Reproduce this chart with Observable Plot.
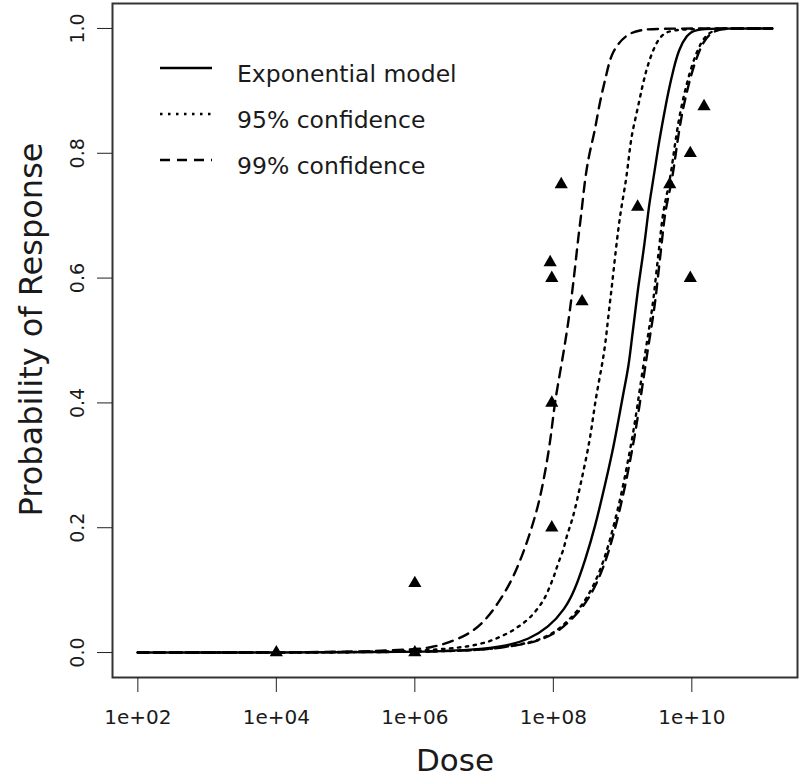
<!DOCTYPE html>
<html>
<head>
<meta charset="utf-8">
<script src="https://cdn.jsdelivr.net/npm/d3@7"></script>
<script src="https://cdn.jsdelivr.net/npm/@observablehq/plot@0.6"></script>
<style>
  body { margin: 0; background: #ffffff; }
  #wrap { position: relative; width: 800px; height: 780px; }
  #legend { position: absolute; left: 0; top: 0; pointer-events: none; }
  text { font-family: "DejaVu Sans", sans-serif; }
</style>
</head>
<body>
<div id="wrap"></div>
<script>
// ---- axis ticks ----
const xTicks = [1e2, 1e4, 1e6, 1e8, 1e10];
const xTickLabels = ["1e+02", "1e+04", "1e+06", "1e+08", "1e+10"];
const yTicks = [0, 0.2, 0.4, 0.6, 0.8, 1.0];
const yTickLabels = ["0.0", "0.2", "0.4", "0.6", "0.8", "1.0"];

// ---- observed data (triangles) ----
const obsDose = [1e4, 1e6, 1e6, 9e7, 9.5e7, 9.5e7, 9.5e7, 1.3e8, 2.6e8, 1.65e9, 4.8e9, 9.5e9, 9.5e9, 1.5e10];
const obsResponse = [0, 0, 0.111, 0.625, 0.6, 0.4, 0.2, 0.75, 0.5625, 0.714, 0.75, 0.8, 0.6, 0.875];

// ---- fitted exponential model (log10 dose, probability) ----
const modelLogDose = [2, 4, 6, 6.86, 7.35, 7.64, 7.93, 8.17, 8.31, 8.46, 8.60, 8.75, 8.87, 8.94, 9.01, 9.09, 9.13, 9.18, 9.23, 9.29, 9.34, 9.38, 9.42, 9.47, 9.52, 9.59, 9.66, 9.74, 9.81, 9.93, 10.04, 10.3, 11.16];
const modelProb    = [0, 0, 0.0005, 0.004, 0.011, 0.021, 0.040, 0.070, 0.100, 0.148, 0.200, 0.270, 0.330, 0.372, 0.415, 0.460, 0.500, 0.543, 0.590, 0.633, 0.676, 0.715, 0.742, 0.777, 0.814, 0.857, 0.899, 0.937, 0.966, 0.990, 0.998, 1.0, 1.0];

// ---- 95% confidence, lower and upper (dotted) ----
const lo95LogDose = [2, 5, 6.0, 6.68, 6.87, 7.09, 7.25, 7.40, 7.54, 7.66, 7.78, 7.88, 7.95, 8.02, 8.07, 8.15, 8.19, 8.26, 8.31, 8.39, 8.48, 8.55, 8.60, 8.67, 8.74, 8.78, 8.82, 8.85, 8.89, 8.94, 8.99, 9.05, 9.09, 9.13, 9.21, 9.28, 9.35, 9.45, 9.57, 9.8, 11.16];
const lo95Prob    = [0, 0.0005, 0.002, 0.008, 0.012, 0.018, 0.026, 0.034, 0.045, 0.055, 0.071, 0.087, 0.106, 0.125, 0.144, 0.165, 0.186, 0.208, 0.228, 0.268, 0.314, 0.356, 0.399, 0.441, 0.484, 0.524, 0.564, 0.591, 0.633, 0.681, 0.719, 0.756, 0.793, 0.830, 0.867, 0.905, 0.937, 0.969, 0.993, 1.0, 1.0];
const up95LogDose = [2, 6, 7.0, 7.35, 7.69, 7.98, 8.19, 8.41, 8.58, 8.72, 8.82, 8.92, 9.01, 9.09, 9.16, 9.22, 9.28, 9.34, 9.40, 9.45, 9.49, 9.54, 9.58, 9.66, 9.71, 9.75, 9.82, 9.90, 10.0, 10.14, 10.3, 10.5, 11.16];
const up95Prob    = [0, 0.0003, 0.004, 0.010, 0.016, 0.029, 0.048, 0.074, 0.106, 0.144, 0.181, 0.224, 0.268, 0.314, 0.356, 0.400, 0.445, 0.490, 0.530, 0.569, 0.612, 0.660, 0.705, 0.744, 0.776, 0.810, 0.860, 0.900, 0.942, 0.982, 0.998, 1.0, 1.0];

// ---- 99% confidence, lower and upper (dashed) ----
const lo99LogDose = [2, 5, 6.0, 6.24, 6.49, 6.78, 7.01, 7.21, 7.40, 7.55, 7.66, 7.78, 7.86, 7.93, 7.98, 8.02, 8.09, 8.16, 8.22, 8.27, 8.32, 8.36, 8.41, 8.45, 8.51, 8.60, 8.67, 8.77, 8.84, 9.06, 9.28, 9.5, 11.16];
const lo99Prob    = [0, 0.0002, 0.005, 0.008, 0.016, 0.029, 0.050, 0.080, 0.115, 0.155, 0.190, 0.234, 0.276, 0.320, 0.360, 0.400, 0.444, 0.489, 0.532, 0.575, 0.623, 0.665, 0.708, 0.752, 0.796, 0.835, 0.883, 0.927, 0.963, 0.992, 0.998, 1.0, 1.0];
const up99LogDose = [2, 6, 7.03, 7.38, 7.72, 8.01, 8.22, 8.44, 8.61, 8.75, 8.85, 8.95, 9.04, 9.12, 9.19, 9.25, 9.31, 9.37, 9.43, 9.48, 9.52, 9.57, 9.61, 9.69, 9.74, 9.78, 9.85, 9.93, 10.03, 10.17, 10.33, 10.55, 11.16];
const up99Prob    = [0, 0.0003, 0.004, 0.010, 0.016, 0.029, 0.048, 0.074, 0.106, 0.144, 0.181, 0.224, 0.268, 0.314, 0.356, 0.400, 0.445, 0.490, 0.530, 0.569, 0.612, 0.660, 0.705, 0.744, 0.776, 0.810, 0.860, 0.900, 0.942, 0.982, 0.998, 1.0, 1.0];

// ---- legend ----
const legendNames = ["Exponential model", "95% confidence", "99% confidence"];
const legendDash = [null, "2.5,5.5", "10,7"];

// ---- build tables ----
const toRows = (logs, probs) => logs.map((l, i) => ({dose: Math.pow(10, l), p: probs[i]}));
const obs = obsDose.map((d, i) => ({dose: d, p: obsResponse[i]}));
const model = toRows(modelLogDose, modelProb);
const lo95 = toRows(lo95LogDose, lo95Prob);
const up95 = toRows(up95LogDose, up95Prob);
const lo99 = toRows(lo99LogDose, lo99Prob);
const up99 = toRows(up99LogDose, up99Prob);

const xFmt = d => xTickLabels[xTicks.indexOf(d)];
const yFmt = d => yTickLabels[yTicks.indexOf(d)];

const lineOpts = {x: "dose", y: "p", stroke: "black", strokeWidth: 2.4, curve: "basis"};

const chart = Plot.plot({
  width: 800,
  height: 780,
  marginLeft: 112,
  marginRight: 3,
  marginTop: 3,
  marginBottom: 103,
  style: {fontFamily: "DejaVu Sans, sans-serif", background: "white", color: "#1a1a1a"},
  x: {type: "log", domain: [Math.pow(10, 1.634), Math.pow(10, 11.526)]},
  y: {domain: [-0.04, 1.04]},
  marks: [
    Plot.line(lo99, {...lineOpts, strokeDasharray: legendDash[2]}),
    Plot.line(up99, {...lineOpts, strokeDasharray: legendDash[2]}),
    Plot.line(lo95, {...lineOpts, strokeDasharray: legendDash[1]}),
    Plot.line(up95, {...lineOpts, strokeDasharray: legendDash[1]}),
    Plot.line(model, lineOpts),
    Plot.dot(obs, {x: "dose", y: "p", symbol: "triangle", r: 4.9, fill: "black", stroke: "none"}),
    Plot.frame({stroke: "#333", strokeWidth: 2}),
    Plot.axisX({ticks: xTicks, tickFormat: xFmt, tickSize: 15, tickPadding: 17, fontSize: 20, label: null, stroke: "#222"}),
    Plot.axisY({ticks: yTicks, tickFormat: yFmt, tickSize: 15, tickPadding: 14, tickRotate: -90, fontSize: 19, label: null, stroke: "#222"}),
    Plot.text(["Dose"], {text: d => d, frameAnchor: "bottom", lineAnchor: "middle", dy: 84, fontSize: 31, fill: "#1a1a1a"}),
    Plot.text(["Probability of Response"], {text: d => d, frameAnchor: "left", textAnchor: "middle", lineAnchor: "middle", rotate: -90, dx: -81, dy: -11, fontSize: 32, fill: "#1a1a1a"})
  ]
});

const wrap = document.getElementById("wrap");
wrap.appendChild(chart);

// legend overlay (inside the plotting region, like R's legend(bty="n"))
const leg = d3.select(wrap).append("svg")
  .attr("id", "legend").attr("width", 800).attr("height", 200);
const legendLineY = [68, 114, 160];
legendNames.forEach((name, i) => {
  const g = leg.append("g");
  g.append("line")
    .attr("x1", 160).attr("x2", 212)
    .attr("y1", legendLineY[i]).attr("y2", legendLineY[i])
    .attr("stroke", "black").attr("stroke-width", 2.4)
    .attr("stroke-dasharray", legendDash[i]);
  g.append("text")
    .attr("x", 237).attr("y", legendLineY[i] + 13.5)
    .attr("font-size", 23.5).attr("fill", "#1a1a1a")
    .text(name);
});
</script>
</body>
</html>
